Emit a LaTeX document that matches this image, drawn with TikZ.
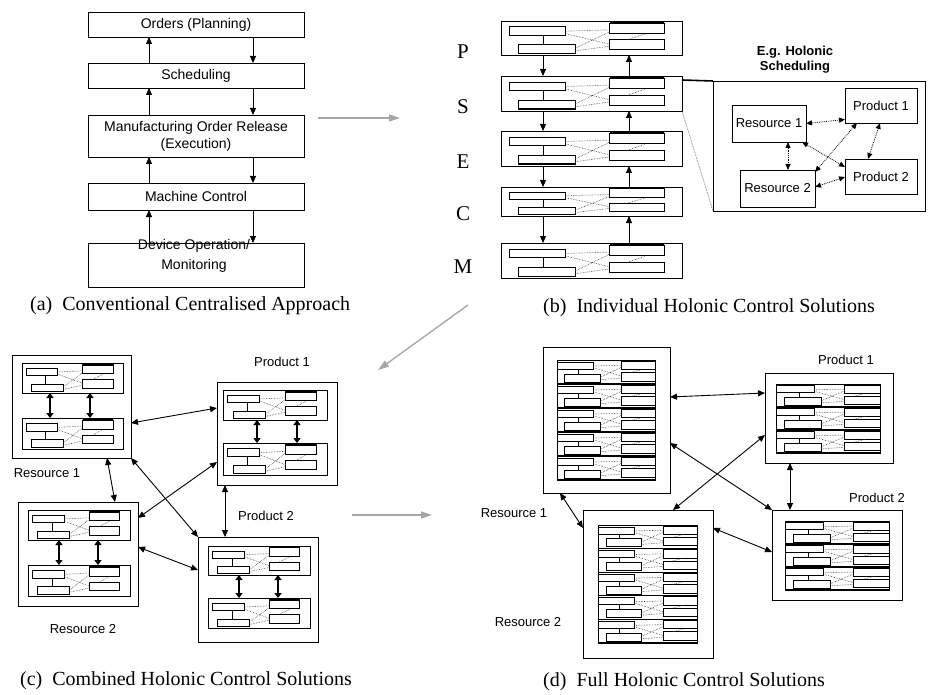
\documentclass[tikz,border=0pt]{standalone}
\usepackage{fontspec}
\setmainfont{Liberation Serif}
\setsansfont{Liberation Sans}
\usetikzlibrary{arrows.meta}
\tikzset{
  box/.style={draw, line width=0.9pt, inner sep=0pt, outer sep=0pt, anchor=north west,
    font=\sffamily\fontsize{13}{13.5}\selectfont, align=center},
  abox/.style={box, font=\sffamily\fontsize{14}{17}\selectfont},
  lbl/.style={font=\sffamily\fontsize{13}{15}\selectfont, inner sep=0pt, align=center},
  letter/.style={font=\rmfamily\fontsize{21}{23}\selectfont, inner sep=0pt},
  captxt/.style={font=\rmfamily\fontsize{20}{22}\selectfont, inner sep=0pt, anchor=west},
  bar/.style={line width=0.7pt},
  thickbar/.style={line width=1.5pt},
  dots/.style={densely dotted, line width=0.6pt, black!75},
  arr/.style={line width=0.9pt, -{Triangle[length=7pt,width=6pt]}},
  dbl/.style={line width=0.9pt, {Triangle[length=7pt,width=6pt]}-{Triangle[length=7pt,width=6pt]}},
  fat/.style={line width=1.8pt, {Triangle[length=5pt,width=7pt]}-{Triangle[length=5pt,width=7pt]}},
  dotdbl/.style={densely dotted, line width=0.8pt, {Triangle[length=6pt,width=5pt]}-{Triangle[length=6pt,width=5pt]}},
  garr/.style={draw=black!35, line width=1.3pt, -{Triangle[length=11pt,width=7pt]}},
}
\newcommand\hpat[3]{%
  \begin{scope}[shift={(#1.north west)}, xscale=#2, yscale=#3]
    \draw[bar] (0.044,0.17) rectangle (0.354,0.42);
    \draw[bar] (0.234,0.42) -- (0.234,0.70);
    \draw[bar] (0.096,0.70) rectangle (0.41,0.95);
    \draw[thickbar] (0.096,0.95) -- (0.41,0.95);
    \draw[bar] (0.60,0.06) rectangle (0.90,0.35);
    \draw[thickbar] (0.60,0.06) -- (0.90,0.06);
    \draw[bar] (0.60,0.55) rectangle (0.90,0.83);
    \draw[dots] (0.354,0.30) -- (0.60,0.26)
                (0.354,0.37) -- (0.60,0.68)
                (0.41,0.80) -- (0.60,0.32)
                (0.41,0.88) -- (0.60,0.74)
                (0.70,0.55) -- (0.80,0.37);
  \end{scope}}
\newcommand\cellpat{%
  \draw[bar] (0,0.08) rectangle (0.37,0.38);
  \draw[bar] (0.22,0.38) -- (0.22,0.58);
  \draw[bar] (0.08,0.58) rectangle (0.44,0.92);
  \draw[bar] (0.66,0.04) rectangle (1,0.40);
  \draw[bar] (0.66,0.52) rectangle (1,0.88);
  \draw[dots] (0.37,0.25) -- (0.66,0.22)
              (0.37,0.32) -- (0.66,0.68)
              (0.44,0.72) -- (0.66,0.30)
              (0.44,0.82) -- (0.66,0.75)
              (0.76,0.52) -- (0.86,0.40);}
\newcommand\stackpat[5]{%
  \begin{scope}[shift={(#1,#2)}]
    \pgfmathsetmacro\ch{#4/#5}
    \foreach \i in {1,...,#5}{%
      \begin{scope}[shift={(0,{(\i-1)*\ch})}, xscale=#3, yscale=\ch]
        \cellpat
      \end{scope}
      \draw[line width=1.3pt] (0,{\i*\ch}) -- (#3,{\i*\ch});
    }
    \draw[line width=0.9pt] (0,0) rectangle (#3,#4);
  \end{scope}}
\begin{document}
\begin{tikzpicture}[x=1pt,y=-1pt]
\fill[white] (0,0) rectangle (928,695);
\useasboundingbox (0,0) rectangle (928,695);

% ---------- panel (a)
\node[abox, minimum width=216pt, minimum height=25pt] (oa) at (88,12) {Orders (Planning)};
\node[abox, minimum width=216pt, minimum height=25pt] (sa) at (88,63) {Scheduling};
\node[abox, minimum width=216pt, minimum height=42pt] (ma) at (88,115) {Manufacturing Order Release\\(Execution)};
\node[abox, minimum width=216pt, minimum height=27pt] (ca) at (88,183) {Machine Control};
\node[abox, minimum width=216pt, minimum height=44pt] (da) at (88,243) {};
\node[lbl, font=\sffamily\fontsize{14}{20}\selectfont] (dat) at (194,256) {Device Operation/\\Monitoring};
\foreach \u/\l in {oa/sa, sa/ma, ma/ca, ca/da}{
  \draw[arr] ([xshift=61pt]\l.north west) -- ([xshift=61pt]\u.south west);
  \draw[arr] ([xshift=165pt]\u.south west) -- ([xshift=165pt]\l.north west);
}
\node[captxt] (capa) at (30,306) {(a)\enspace Conventional Centralised Approach};

% ---------- panel (b)
\foreach \n/\y/\h/\L/\ly in {pb/21/34/P/52, sb/76/35/S/107, eb/131/35/E/162, cb/187/29/C/214, mb/243/35/M/267}{
  \node[box, minimum width=181pt, minimum height=\h*1pt] (\n) at (501,\y) {};
  \hpat{\n}{181}{\h}
  \node[letter] (\n-lt) at (463,\ly) {\L};
}
\foreach \u/\l in {pb/sb, sb/eb, eb/cb, cb/mb}{
  \draw[arr] ([xshift=42pt]\u.south west) -- ([xshift=42pt]\l.north west);
  \draw[arr] ([xshift=128pt]\l.north west) -- ([xshift=128pt]\u.south west);
}
\node[draw, line width=0.9pt, anchor=north west, minimum width=212pt, minimum height=130pt, inner sep=0pt, outer sep=0pt] (hs) at (713,81) {};
\draw[line width=1.6pt] ([yshift=-4pt]sb.north east) -- (hs.north west);
\draw[dots] (sb.south east) -- (hs.south west);
\node[lbl, font=\sffamily\bfseries\fontsize{13}{15}\selectfont] (hsl) at (795,60) {E.g. Holonic\\Scheduling};
\node[box, minimum width=74pt, minimum height=37pt] (hr1) at (732,105) {Resource 1};
\node[box, minimum width=72pt, minimum height=35pt] (hp1) at (845,88) {Product 1};
\node[box, minimum width=72pt, minimum height=35pt] (hp2) at (845,159) {Product 2};
\node[box, minimum width=75pt, minimum height=37pt] (hr2) at (740,170) {Resource 2};
\draw[dotdbl] (hr1.east) -- ([yshift=-14pt]hp1.west);
\draw[dotdbl] ([xshift=56pt]hr1.south west) -- ([xshift=48pt]hr2.north west);
\draw[dotdbl] ([xshift=-4pt]hr1.south east) -- ([yshift=-8pt]hp2.north west);
\draw[dotdbl] ([yshift=-2pt]hr2.north east) -- ([xshift=12pt]hp1.south west);
\draw[dotdbl] ([yshift=-17pt]hr2.north east) -- ([yshift=-18pt]hp2.north west);
\draw[dotdbl] ([xshift=35pt]hp1.south west) -- ([xshift=23pt]hp2.north west);
\node[captxt] (capb) at (543,308) {(b)\enspace Individual Holonic Control Solutions};

% ---------- gray arrows
\coordinate (g1a) at (318,118); \coordinate (g1b) at (400,118);
\draw[garr] (g1a) -- (g1b);
\coordinate (g2a) at (468,305); \coordinate (g2b) at (378,370);
\draw[garr] (g2a) -- (g2b);
\coordinate (g3a) at (352,515); \coordinate (g3b) at (432,515);
\draw[garr] (g3a) -- (g3b);

% ---------- panel (c)
\node[box, minimum width=119pt, minimum height=103pt] (r1c) at (12,355) {};
\node[box, minimum width=101pt, minimum height=30pt] (r1u1) at (22,363) {}; \hpat{r1u1}{101}{30}
\node[box, minimum width=101pt, minimum height=31pt] (r1u2) at (22,418) {}; \hpat{r1u2}{101}{31}
\draw[fat] ([xshift=28pt]r1u1.south west) -- ([xshift=28pt]r1u2.north west);
\draw[fat] ([xshift=68pt]r1u1.south west) -- ([xshift=68pt]r1u2.north west);

\node[box, minimum width=120pt, minimum height=104pt] (r2c) at (18,502) {};
\node[box, minimum width=102pt, minimum height=30pt] (r2u1) at (28,510) {}; \hpat{r2u1}{102}{30}
\node[box, minimum width=102pt, minimum height=31pt] (r2u2) at (28,565) {}; \hpat{r2u2}{102}{31}
\draw[fat] ([xshift=31pt]r2u1.south west) -- ([xshift=31pt]r2u2.north west);
\draw[fat] ([xshift=70pt]r2u1.south west) -- ([xshift=70pt]r2u2.north west);

\node[box, minimum width=120pt, minimum height=103pt] (p1c) at (217,382) {};
\node[box, minimum width=104pt, minimum height=30pt] (p1u1) at (223,390) {}; \hpat{p1u1}{104}{30}
\node[box, minimum width=104pt, minimum height=32pt] (p1u2) at (223,443) {}; \hpat{p1u2}{104}{32}
\draw[fat] ([xshift=34pt]p1u1.south west) -- ([xshift=34pt]p1u2.north west);
\draw[fat] ([xshift=74pt]p1u1.south west) -- ([xshift=74pt]p1u2.north west);

\node[box, minimum width=120pt, minimum height=105pt] (p2c) at (198,537) {};
\node[box, minimum width=102pt, minimum height=29pt] (p2u1) at (208,546) {}; \hpat{p2u1}{102}{29}
\node[box, minimum width=102pt, minimum height=30pt] (p2u2) at (208,598) {}; \hpat{p2u2}{102}{30}
\draw[fat] ([xshift=31pt]p2u1.south west) -- ([xshift=31pt]p2u2.north west);
\draw[fat] ([xshift=70pt]p2u1.south west) -- ([xshift=70pt]p2u2.north west);

\node[lbl] (r1cl) at (47,473) {Resource 1};
\node[lbl] (r2cl) at (83,629) {Resource 2};
\node[lbl] (p1cl) at (282,362) {Product 1};
\node[lbl] (p2cl) at (266,516) {Product 2};

\draw[dbl] ([yshift=-68pt]r1c.north east) -- ([yshift=-26pt]p1c.north west);
\draw[dbl] (r1c.south east) -- (p2c.north west);
\draw[dbl] ([xshift=95pt]r1c.south west) -- ([xshift=97pt]r2c.north west);
\draw[dbl] ([yshift=-16pt]r2c.north east) -- ([yshift=-80pt]p1c.north west);
\draw[dbl] ([yshift=-45pt]r2c.north east) -- ([yshift=-33pt]p2c.north west);
\draw[dbl] ([xshift=8pt]p1c.south west) -- ([xshift=27pt]p2c.north west);
\node[captxt] (capc) at (20,681) {(c)\enspace Combined Holonic Control Solutions};

% ---------- panel (d)
\node[box, minimum width=127pt, minimum height=146pt] (r1d) at (543,347) {};
\stackpat{557}{360}{98}{120}{5}
\node[box, minimum width=130pt, minimum height=148pt] (r2d) at (583,510) {};
\stackpat{598}{525}{99}{118}{5}
\node[box, minimum width=128pt, minimum height=90pt] (p1d) at (765,373) {};
\stackpat{776}{384}{104}{69}{3}
\node[box, minimum width=130pt, minimum height=90pt] (p2d) at (772,510) {};
\stackpat{785}{521}{104}{69}{3}

\node[lbl] (r1dl) at (514,513) {Resource 1};
\node[lbl] (r2dl) at (528,622) {Resource 2};
\node[lbl] (p1dl) at (846,360) {Product 1};
\node[lbl] (p2dl) at (877,498) {Product 2};

\draw[dbl] ([yshift=-50pt]r1d.north east) -- ([yshift=-20pt]p1d.north west);
\draw[dbl] ([yshift=-96pt]r1d.north east) -- (p2d.north west);
\draw[dbl] ([xshift=90pt]r2d.north west) -- ([yshift=-62pt]p1d.north west);
\draw[dbl] ([xshift=17pt]r1d.south west) -- ([yshift=-18pt]r2d.north west);
\draw[dbl] ([yshift=-18pt]r2d.north east) -- ([yshift=-42pt]p2d.north west);
\draw[dbl] ([xshift=25pt]p1d.south west) -- ([xshift=18pt]p2d.north west);
\node[captxt] (capd) at (543,682) {(d)\enspace Full Holonic Control Solutions};
\end{tikzpicture}
\end{document}
